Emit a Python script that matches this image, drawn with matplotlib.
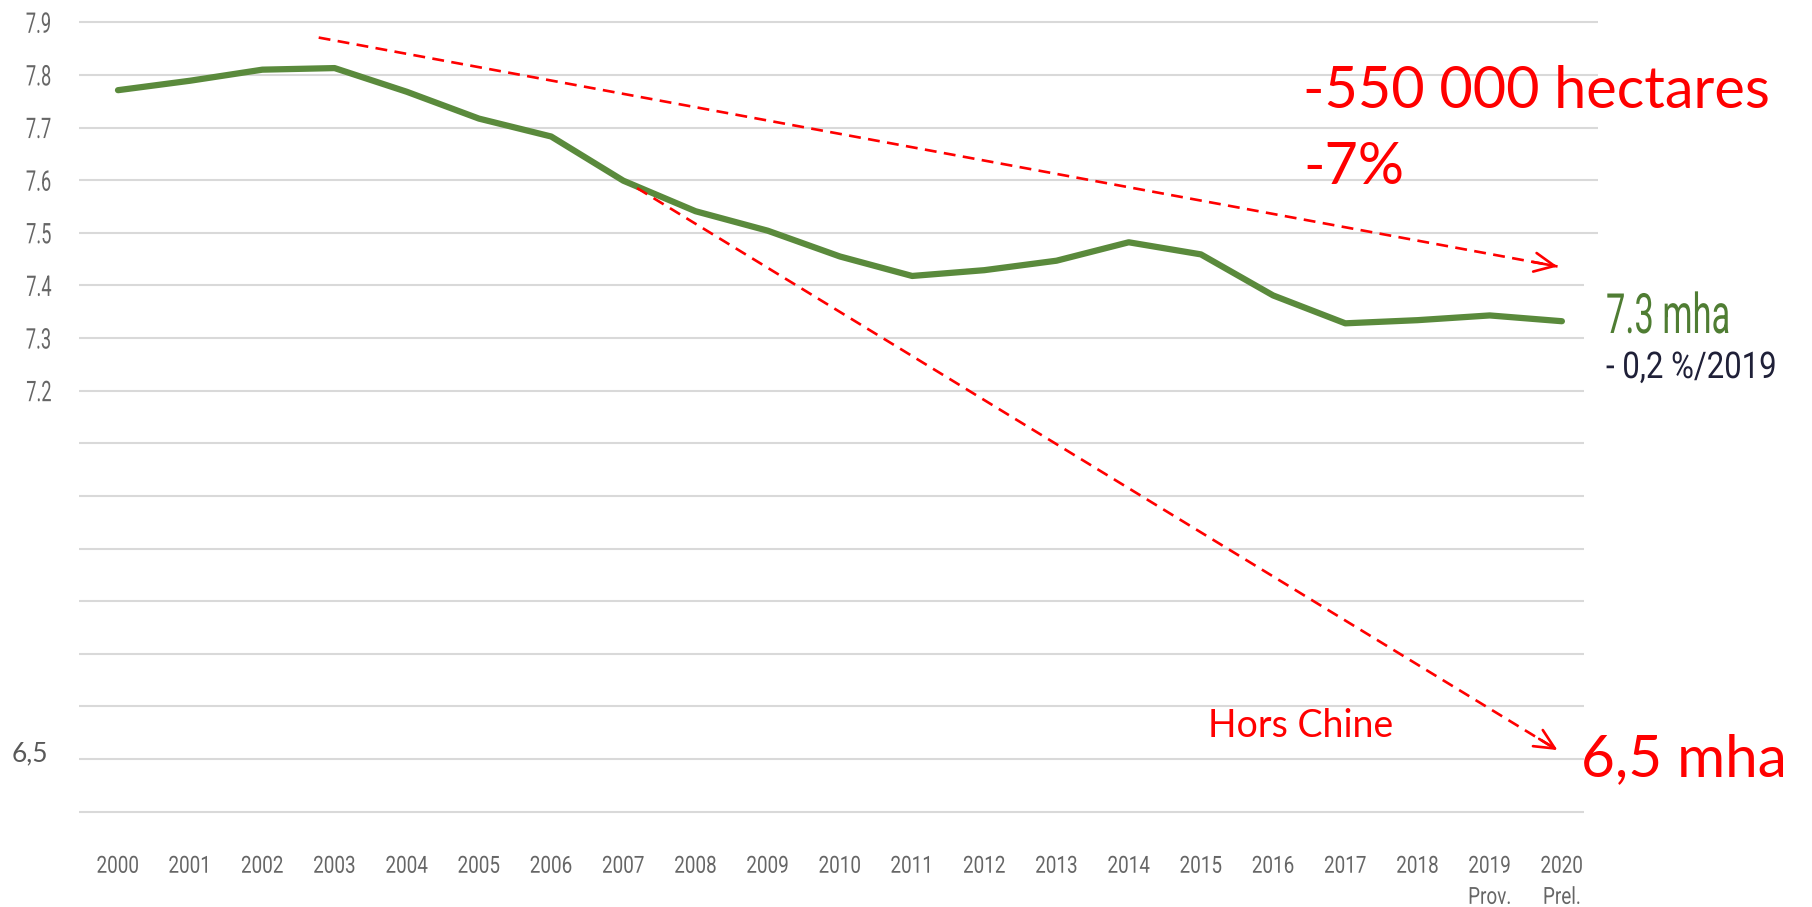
import matplotlib
matplotlib.use('Agg')
import matplotlib.pyplot as plt
import matplotlib.patheffects as pe
from matplotlib.transforms import Affine2D

# données (surface en millions d'hectares)
years = list(range(2000, 2021))
year_labels = [str(y) for y in range(2000, 2019)] + ['2019\nProv.', '2020\nPrel.']
surface = [7.771, 7.789, 7.810, 7.813, 7.768, 7.717, 7.683, 7.599, 7.541, 7.504,
           7.455, 7.418, 7.429, 7.447, 7.482, 7.459, 7.381, 7.328, 7.334, 7.343, 7.332]

ytick_vals = [7.2, 7.3, 7.4, 7.5, 7.6, 7.7, 7.8, 7.9]
ytick_labels = ['7.2', '7.3', '7.4', '7.5', '7.6', '7.7', '7.8', '7.9']
grid_long = [7.5, 7.6, 7.7, 7.8, 7.9]
grid_short = [6.4, 6.5, 6.6, 6.7, 6.8, 6.9, 7.0, 7.1, 7.2, 7.3, 7.4]

# flèches rouges (début, fin)
arrow_total = ((2002.78, 7.871), (2019.94, 7.436))
arrow_hors_chine = ((2007.19, 7.585), (2019.94, 6.517))

CALIBRI = ['Lato', 'DejaVu Sans']
GREEN = '#5a8a3c'
GREY = '#666666'

W, H = 1812, 907


def fx(x):
    return x / W


def fy(y):
    return 1 - y / H


class Condense(pe.AbstractPathEffect):
    """Resserre le texte horizontalement (police étroite type Oswald)."""

    def __init__(self, sx=0.75, anchor='left'):
        super().__init__()
        self.sx = sx
        self.anchor = anchor

    def draw_path(self, renderer, gc, tpath, affine, rgbFace=None):
        ext = tpath.get_extents()
        if self.anchor == 'center':
            cx = (ext.x0 + ext.x1) / 2
        elif self.anchor == 'right':
            cx = ext.x1
        else:
            cx = 0
        squeeze = Affine2D().translate(-cx, 0).scale(self.sx, 1).translate(cx, 0)
        renderer.draw_path(gc, tpath, squeeze + affine, rgbFace)


fig = plt.figure(figsize=(W / 100, H / 100), dpi=100)
ax = fig.add_axes([79 / W, 1 - 811.7 / H, (1598 - 79) / W, (811.7 - 22.3) / H])
ax.set_xlim(1999.46, 2020.5)
ax.set_ylim(6.4, 7.9)
for s in ax.spines.values():
    s.set_visible(False)

# grille
ax.hlines(grid_long, 1999.46, 2020.5, color='#d9d9d9', lw=1.5, zorder=1, clip_on=False)
ax.hlines(grid_short, 1999.46, 2020.30, color='#d9d9d9', lw=1.5, zorder=1, clip_on=False)

# courbe
ax.plot(years, surface, color=GREEN, lw=4.5, solid_capstyle='round',
        solid_joinstyle='round', zorder=3)

# axes
ax.set_xticks(years, year_labels, fontfamily='Roboto', fontsize=17, color=GREY,
              linespacing=1.45, path_effects=[Condense(0.8, 'center')])
ax.set_yticks(ytick_vals, ytick_labels, fontfamily='Roboto', fontsize=20.5, color=GREY,
              path_effects=[Condense(0.64, 'right')])
ax.tick_params(axis='x', length=0, pad=31)
ax.tick_params(axis='y', length=0, pad=19.5)


def dashed_arrow(start, end):
    (x0, y0), (x1, y1) = start, end
    ax.plot([x0, x1], [y0, y1], color='red', lw=1.9, dashes=(4.5, 2.8), zorder=4, clip_on=False)
    xt = x1 - 0.02 * (x1 - x0)
    yt = y1 - 0.02 * (y1 - y0)
    ax.annotate('', xy=(x1, y1), xytext=(xt, yt), annotation_clip=False,
                arrowprops=dict(arrowstyle='->,head_length=0.72,head_width=0.34',
                                color='red', lw=1.9, mutation_scale=20,
                                shrinkA=0, shrinkB=0))


dashed_arrow(*arrow_total)
dashed_arrow(*arrow_hors_chine)

# annotations
fig.text(fx(1303), fy(108.3), '-550 000 hectares', color='red', fontsize=41.5,
         family=CALIBRI, va='baseline')
fig.text(fx(1303), fy(184.5), '-7%', color='red', fontsize=41.5, family=CALIBRI, va='baseline')
fig.text(fx(1208), fy(736.7), 'Hors Chine', color='red', fontsize=27, family=CALIBRI, va='baseline')
fig.text(fx(1581), fy(776), '6,5 mha', color='red', fontsize=42, family=CALIBRI, va='baseline')
fig.text(fx(1606), fy(333), '7.3 mha', color='#4f7d33', fontsize=40, family='Roboto',
         va='baseline', path_effects=[Condense(0.62)])
fig.text(fx(1606), fy(378), '- 0,2 %/2019', color='#1f2038', fontsize=26.5, family='Roboto',
         va='baseline', path_effects=[Condense(0.845)])
fig.text(fx(12), fy(761.7), '6,5', color='#595959', fontsize=19, family=CALIBRI, va='baseline')

fig.savefig('out.png', dpi=100)
